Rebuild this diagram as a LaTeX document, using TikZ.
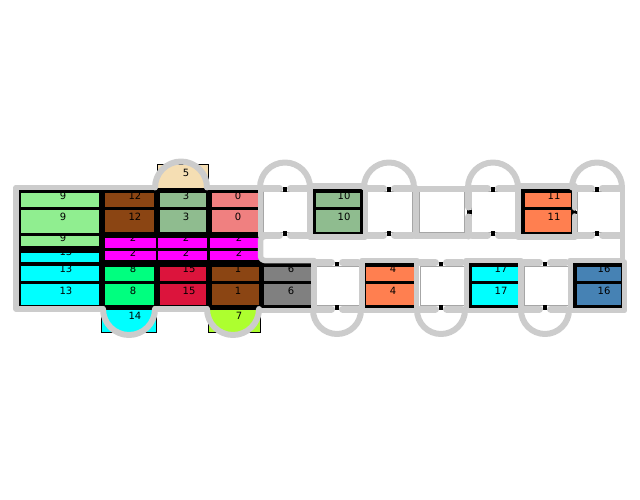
\documentclass[tikz,border=0pt]{standalone}
\usepackage{fontspec}
\setmainfont{DejaVu Sans}
\usepackage{xcolor}
\definecolor{PlanWall}{HTML}{CCCCCC}
\definecolor{PlanGreen}{HTML}{90EE90}
\definecolor{PlanBrown}{HTML}{8B4513}
\definecolor{PlanSea}{HTML}{8FBC8F}
\definecolor{PlanCoral}{HTML}{F08080}
\definecolor{PlanWheat}{HTML}{F5DEB3}
\definecolor{PlanMagenta}{HTML}{FF00FF}
\definecolor{PlanCyan}{HTML}{00FFFF}
\definecolor{PlanSpring}{HTML}{00FF7F}
\definecolor{PlanCrimson}{HTML}{DC143C}
\definecolor{PlanLime}{HTML}{ADFF2F}
\definecolor{PlanGray}{HTML}{808080}
\definecolor{PlanOrange}{HTML}{FF7F50}
\definecolor{PlanSteel}{HTML}{4682B4}
\tikzset{
  wall/.style={draw=PlanWall,line width=5.5pt,line cap=round,line join=round},
  doorwall/.style={wall,line width=7pt},
  bay/.style={wall,line width=6pt},
  notch/.style={draw=black,line width=4pt},
  cell/.style={draw=black,line width=0.8pt},
  blank/.style={draw=black!35,line width=0.5pt,fill=white},
  tag/.style={font=\fontsize{10}{10}\selectfont,inner sep=0pt,text=black}
}
\newcommand{\room}[5]{\filldraw[cell,fill=#5] (#1,#2) rectangle (#3,#4);}
\begin{document}
\begin{tikzpicture}[x=1pt,y=-1pt]
  \useasboundingbox (0,0) rectangle (640,500);
  % black blocks
  \fill[black] (17,188) rectangle (262,309);
  \fill[black] (308,186) rectangle (365,236);
  \fill[black] (517,186) rectangle (576,236);
  \fill[black] (260,261) rectangle (314,311);
  \fill[black] (362,261) rectangle (417,311);
  \fill[black] (466,261) rectangle (522,311);
  \fill[black] (570,261) rectangle (625,311);
  % bumps
  \room{157}{164}{208}{188}{PlanWheat}
  \room{101}{309}{156}{332}{PlanCyan}
  \room{208}{309}{260}{332}{PlanLime}
  % left column
  \room{20}{192}{99}{207}{PlanGreen}
  \room{20}{209}{99}{233}{PlanGreen}
  \room{20}{235}{99}{246}{PlanGreen}
  \room{20}{252}{99}{262}{PlanCyan}
  \room{20}{265}{99}{281}{PlanCyan}
  \room{20}{283}{99}{305}{PlanCyan}
  % second column
  \room{104}{192}{154}{207}{PlanBrown}
  \room{104}{209}{154}{232}{PlanBrown}
  \room{104}{237}{156}{248}{PlanMagenta}
  \room{104}{250}{156}{260}{PlanMagenta}
  \room{104}{266}{154}{281}{PlanSpring}
  \room{104}{283}{154}{305}{PlanSpring}
  % third column
  \room{159}{192}{206}{207}{PlanSea}
  \room{159}{209}{206}{232}{PlanSea}
  \room{157}{237}{207}{248}{PlanMagenta}
  \room{157}{250}{207}{260}{PlanMagenta}
  \room{159}{266}{206}{281}{PlanCrimson}
  \room{159}{283}{206}{305}{PlanCrimson}
  % fourth column
  \room{211}{192}{259}{207}{PlanCoral}
  \room{211}{209}{259}{232}{PlanCoral}
  \room{209}{237}{259}{248}{PlanMagenta}
  \room{209}{250}{259}{260}{PlanMagenta}
  \room{211}{266}{259}{281}{PlanBrown}
  \room{211}{283}{259}{305}{PlanBrown}
  % the others
  \room{263}{266}{311}{281}{PlanGray}
  \room{263}{283}{311}{305}{PlanGray}
  \room{315}{192}{360}{207}{PlanSea}
  \room{315}{209}{360}{232}{PlanSea}
  \room{365}{266}{414}{281}{PlanOrange}
  \room{365}{283}{414}{305}{PlanOrange}
  \room{524}{192}{571}{207}{PlanOrange}
  \room{524}{209}{571}{232}{PlanOrange}
  \room{471}{266}{520}{281}{PlanCyan}
  \room{471}{283}{520}{305}{PlanCyan}
  \room{576}{266}{621}{281}{PlanSteel}
  \room{576}{283}{621}{305}{PlanSteel}
  % empty rooms
  \foreach \xa/\xb in {263/309,367/412,419/464,471/516,577/620}
    \draw[blank] (\xa,191.5) rectangle (\xb,232);
  \foreach \xa/\xb in {316/360,420/464,524/568}
    \draw[blank] (\xa,266) rectangle (\xb,305);
  % notches
  \foreach \cx in {285,389,493,597} {
    \draw[notch] (\cx,187) -- (\cx,192);
    \draw[notch] (\cx,231) -- (\cx,236);
  }
  \foreach \cx in {337,441,545} {
    \draw[notch] (\cx,262) -- (\cx,266);
    \draw[notch] (\cx,305) -- (\cx,310);
  }
  \draw[notch] (467,212) -- (472,212);
  \draw[notch,line width=3pt] (574,212) -- (577,212);
  % outer wall
  \draw[wall] (155,187.5) -- (16,187.5) -- (16,309) -- (103,309);
  \draw[wall] (155,309) -- (207,309);
  \draw[wall] (207,187.5) -- (260.5,187.5) -- (260.5,236);
  % over the coloured rooms
  \draw[wall] (260,310.5) -- (314,310.5);
  \draw[wall] (362,310.5) -- (417,310.5);
  \draw[wall] (466,310.5) -- (521,310.5);
  \draw[wall] (570,310.5) -- (624.5,310.5) -- (624.5,262);
  \draw[wall] (310,186) -- (365,186);
  \draw[wall] (518,186) -- (575,186);
  \draw[wall] (310,237) -- (365,237);
  \draw[wall] (518,237) -- (575,237);
  \draw[doorwall,line width=6pt] (415,188.5) -- (467,188.5);
  \draw[doorwall,line width=6pt] (415,235.5) -- (467,235.5);
  % bays
  \draw[bay] (155,187.5) arc[start angle=180,end angle=0,radius=26,y radius=-26];
  \draw[bay] (103,309) arc[start angle=180,end angle=360,radius=26,y radius=-26];
  \draw[bay] (207,309) arc[start angle=180,end angle=360,radius=26,y radius=-26];
  \foreach \cx in {285,389,493,597} {
    \draw[bay] (\cx-25,187.5) arc[start angle=180,end angle=0,radius=25,y radius=-25];
    \draw[doorwall] (\cx-21,188) -- (\cx-5.5,188);
    \draw[doorwall] (\cx+5.5,188) -- (\cx+24,188);
    \draw[doorwall] (\cx-21,235.5) -- (\cx-5.5,235.5);
    \draw[doorwall] (\cx+5.5,235.5) -- (\cx+24,235.5);
  }
  \foreach \cx in {337,441,545} {
    \draw[bay] (\cx-24,310) arc[start angle=180,end angle=360,radius=24,y radius=-24];
    \draw[doorwall] (\cx-21,309) -- (\cx-5.5,309);
    \draw[doorwall] (\cx+5.5,309) -- (\cx+21,309);
    \draw[doorwall] (\cx-21,262.5) -- (\cx-5.5,262.5);
    \draw[doorwall] (\cx+5.5,262.5) -- (\cx+21,262.5);
  }
  % side walls
  \foreach \cx in {310,365.5,416,518}
    \draw[wall] (\cx,188) -- (\cx,236);
  \draw[wall] (622.5,188) -- (622.5,260);
  \foreach \cx in {314,362,416.5,466.5,521,570.5}
    \draw[wall] (\cx,262) -- (\cx,309);
  \draw[doorwall] (468,188) -- (468,207);
  \draw[doorwall] (468,217) -- (468,236);
  \draw[wall] (574.5,188) -- (574.5,208);
  \draw[wall] (574.5,216) -- (574.5,236);
  % corridor
  \draw[wall,rounded corners=4pt] (264,236.5) -- (260.5,236.5) -- (260.5,260.5) -- (314,260.5);
  \draw[wall] (362,260.5) -- (417,260.5);
  \draw[wall] (466,260.5) -- (521,260.5);
  \draw[wall] (570,260.5) -- (622.5,260.5);
  % labels
  \foreach \tx/\ty/\tt in {63/196/9,63/217/9,63/238/9,66/252/13,66/269/13,66/291/13,
    135/196/12,135/217/12,133/238/2,133/253/2,133/269/8,133/291/8,
    186/196/3,186/217/3,186/238/2,186/253/2,189/269/15,189/291/15,
    238/196/0,238/217/0,239/238/2,239/253/2,238/269/1,238/291/1,
    291/269/6,291/291/6,344/196/10,344/217/10,393/269/4,393/291/4,
    554/196/11,554/217/11,501/269/17,501/291/17,604/269/16,604/291/16,
    186/173/5,135/316/14,239/316/7}
    \node[tag] at (\tx,\ty) {\tt};
\end{tikzpicture}
\end{document}
